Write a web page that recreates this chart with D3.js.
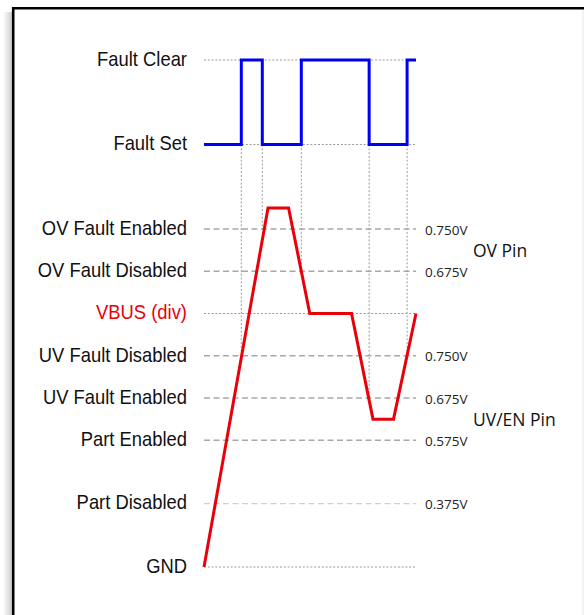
<!DOCTYPE html>
<html>
<head>
<meta charset="utf-8">
<script src="https://cdn.jsdelivr.net/npm/d3@7"></script>
<style>
    body { margin: 0; background: #fff; }
    svg { display: block; }
</style>
</head>
<body>
<svg id="chart" width="584" height="615"></svg>
<script>
// levels (rows of the timing diagram), position in row units from the top
const levelNames = ["Fault Clear", "Fault Set", "OV Fault Enabled", "OV Fault Disabled", "VBUS (div)",
    "UV Fault Disabled", "UV Fault Enabled", "Part Enabled", "Part Disabled", "GND"];
const levelPos = [0, 2, 4, 5, 6, 7, 8, 9, 10.5, 12];
const levelVolts = ["", "", "0.750V", "0.675V", "", "0.750V", "0.675V", "0.575V", "0.375V", ""];

// pin group labels
const pinNames = ["OV Pin", "UV/EN Pin"];
const pinPos = [4.5, 8.5];

// VBUS (div) waveform: time, level
const vbusTime = [0, 30.2, 39.9, 49.9, 69.6, 79.7, 89.4, 100];
const vbusLevel = [12, 3.5, 3.5, 6, 6, 8.5, 8.5, 6];

// fault output: time of each edge, state after it, and the threshold row that caused it
const faultTime = [0, 17.6, 27.5, 45.9, 77.9, 95.8, 100];
const faultState = ["Fault Set", "Fault Clear", "Fault Set", "Fault Clear", "Fault Set", "Fault Clear", "Fault Clear"];
const edgeCause = ["", "UV Fault Disabled", "OV Fault Enabled", "OV Fault Disabled", "UV Fault Enabled", "UV Fault Disabled", ""];

const svg = d3.select("#chart");

const x = d3.scaleLinear().domain([0, 100]).range([204, 416]);
const y = d3.scaleLinear().domain([0, 12]).range([60, 567]);
const levelY = name => y(levelPos[levelNames.indexOf(name)]);

// frame with soft shadow on the left
const defs = svg.append("defs");
const grad = defs.append("linearGradient").attr("id", "shadow");
grad.append("stop").attr("offset", "0%").attr("stop-color", "#fff");
grad.append("stop").attr("offset", "100%").attr("stop-color", "#c8c8c8");
svg.append("rect").attr("x", 3).attr("y", 12).attr("width", 10).attr("height", 615).attr("fill", "url(#shadow)");
svg.append("line").attr("x1", 583).attr("x2", 583).attr("y1", 9).attr("y2", 615)
    .attr("stroke", "#e6e6e6").attr("stroke-width", 1);
svg.append("path").attr("d", "M13.2,615 V8.2 H584")
    .attr("fill", "none").attr("stroke", "#000").attr("stroke-width", 2.6);

// horizontal guide lines
levelNames.forEach((name, i) => {
    const dashed = levelVolts[i] !== "";
    svg.append("line")
        .attr("x1", x(0)).attr("x2", x(100))
        .attr("y1", y(levelPos[i])).attr("y2", y(levelPos[i]))
        .attr("stroke", name === "Part Disabled" ? "#d0d0d0" : (dashed ? "#a8a8a8" : "#9a9a9a"))
        .attr("stroke-width", dashed ? 1.4 : 1)
        .attr("stroke-dasharray", dashed ? "6,3.5" : "2,1.8");
});

// vertical guides from each fault edge down to the threshold that caused it
faultTime.forEach((t, i) => {
    if (!edgeCause[i]) return;
    svg.append("line")
        .attr("x1", x(t)).attr("x2", x(t))
        .attr("y1", levelY("Fault Set")).attr("y2", levelY(edgeCause[i]))
        .attr("stroke", "#9a9a9a").attr("stroke-width", 1)
        .attr("stroke-dasharray", "2,1.8");
});

// fault waveform
const faultLine = d3.line()
    .x((d, i) => x(faultTime[i]))
    .y(d => levelY(d))
    .curve(d3.curveStepAfter);
svg.append("path")
    .datum(faultState)
    .attr("d", faultLine)
    .attr("fill", "none")
    .attr("stroke", "#0000f5")
    .attr("stroke-width", 3);

// VBUS waveform
const vbusLine = d3.line()
    .x(d => x(d))
    .y((d, i) => y(vbusLevel[i]));
svg.append("path")
    .datum(vbusTime)
    .attr("d", vbusLine)
    .attr("fill", "none")
    .attr("stroke", "#e8000b")
    .attr("stroke-width", 3)
    .attr("stroke-linejoin", "miter");

// left labels (narrow Arial look)
levelNames.forEach((name, i) => {
    svg.append("g")
        .attr("transform", `translate(187,${y(levelPos[i]) - 1}) scale(0.92,1)`)
        .append("text")
        .attr("text-anchor", "end")
        .attr("dominant-baseline", "central")
        .attr("font-family", "'Liberation Sans', Arial, sans-serif")
        .attr("font-size", "20px")
        .attr("fill", name === "VBUS (div)" ? "#e8000b" : "#111")
        .text(name);
});

// threshold voltages on the right
levelNames.forEach((name, i) => {
    if (!levelVolts[i]) return;
    svg.append("text")
        .attr("x", 425)
        .attr("y", y(levelPos[i]) + 0.5)
        .attr("dominant-baseline", "central")
        .attr("font-family", "'Open Sans', sans-serif")
        .attr("font-size", "13.5px")
        .attr("fill", "#222")
        .text(levelVolts[i]);
});

// pin names
pinNames.forEach((p, i) => {
    svg.append("text")
        .attr("x", 473)
        .attr("y", y(pinPos[i]))
        .attr("dominant-baseline", "central")
        .attr("font-family", "'Open Sans', sans-serif")
        .attr("font-size", "17.5px")
        .attr("fill", "#111")
        .text(p);
});
</script>
</body>
</html>
